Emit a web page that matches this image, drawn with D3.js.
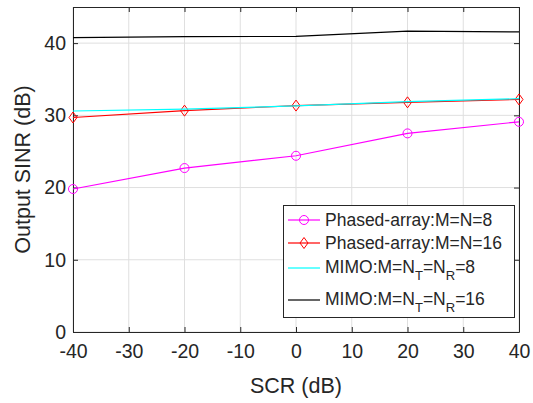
<!DOCTYPE html>
<html><head><meta charset="utf-8">
<script src="https://cdn.jsdelivr.net/npm/d3@7"></script>
<style>body{margin:0;background:#fff}svg{display:block}text{font-family:"Liberation Sans",Arial,sans-serif;fill:#262626}</style>
</head><body><svg id="c" width="533" height="403"></svg>
<script>
const scr = [-40, -20, 0, 20, 40];
const phased8 = [19.8, 22.7, 24.4, 27.5, 29.1];
const phased16 = [29.7, 30.65, 31.35, 31.8, 32.2];
const mimo8 = [30.6, 30.85, 31.3, 31.9, 32.3];
const mimo16 = [40.75, 40.9, 40.92, 41.65, 41.55];
const xTicks = [-40, -30, -20, -10, 0, 10, 20, 30, 40];
const yTicks = [0, 10, 20, 30, 40];

const svg = d3.select("#c");
const L = 73, R = 519, T = 7, B = 332;
const x = d3.scaleLinear().domain([-40, 40]).range([L, R]);
const y = d3.scaleLinear().domain([0, 45]).range([B, T]);
const axisCol = "#262626";
const fmt = d => String(d);

// grid
const g = svg.append("g");
g.selectAll(".gx").data(xTicks).join("line").attr("x1", d => x(d)).attr("x2", d => x(d)).attr("y1", T).attr("y2", B).attr("stroke", "#dfdfdf");
g.selectAll(".gy").data(yTicks).join("line").attr("x1", L).attr("x2", R).attr("y1", d => y(d)).attr("y2", d => y(d)).attr("stroke", "#dfdfdf");

// axes
const xa = svg.append("g").attr("transform", `translate(0,${B})`).call(d3.axisBottom(x).tickValues(xTicks).tickFormat(fmt).tickSize(-5).tickPadding(12).tickSizeOuter(0));
const ya = svg.append("g").attr("transform", `translate(${L},0)`).call(d3.axisLeft(y).tickValues(yTicks).tickFormat(fmt).tickSize(-5).tickPadding(7).tickSizeOuter(0));
const xt = svg.append("g").attr("transform", `translate(0,${T})`).call(d3.axisTop(x).tickValues(xTicks).tickSize(-5).tickFormat("").tickSizeOuter(0));
const yr = svg.append("g").attr("transform", `translate(${R},0)`).call(d3.axisRight(y).tickValues(yTicks).tickSize(-5).tickFormat("").tickSizeOuter(0));
[xa, ya, xt, yr].forEach(a => {
  a.select(".domain").attr("stroke", axisCol);
  a.selectAll(".tick line").attr("stroke", axisCol);
  a.selectAll("text").attr("font-size", 19.5).attr("fill", axisCol).attr("font-family", '"Liberation Sans",Arial,sans-serif');
});

// labels
svg.append("text").attr("x", (L + R) / 2).attr("y", 393).attr("text-anchor", "middle").attr("font-size", 21.5).text("SCR (dB)");
svg.append("text").attr("transform", `translate(30,${(T + B) / 2}) rotate(-90)`).attr("text-anchor", "middle").attr("font-size", 21.5).text("Output SINR (dB)");

const line = d3.line().x((d, i) => x(scr[i])).y(d => y(d));
const series = [
  {v: phased8, c: "#ff00ff", m: "o"},
  {v: phased16, c: "#ff0000", m: "d"},
  {v: mimo8, c: "#00ffff", m: null},
  {v: mimo16, c: "#000000", m: null}
];
const diamond = (cx, cy) => `M${cx},${cy - 5.5}L${cx + 4},${cy}L${cx},${cy + 5.5}L${cx - 4},${cy}Z`;
series.forEach(s => {
  svg.append("path").datum(s.v).attr("d", line).attr("fill", "none").attr("stroke", s.c).attr("stroke-width", 1.2);
  if (s.m === "o") {
    svg.append("g").selectAll("circle").data(s.v).join("circle").attr("cx", (d, i) => x(scr[i])).attr("cy", d => y(d)).attr("r", 4.5).attr("fill", "none").attr("stroke", s.c).attr("stroke-width", 1);
  } else if (s.m === "d") {
    svg.append("g").selectAll("path").data(s.v).join("path").attr("d", (d, i) => diamond(x(scr[i]), y(d))).attr("fill", "none").attr("stroke", s.c).attr("stroke-width", 1);
  }
});

// legend
const lg = svg.append("g");
lg.append("rect").attr("x", 283.5).attr("y", 205.5).attr("width", 231).attr("height", 112).attr("fill", "#fff").attr("stroke", axisCol);
const rows = [
  {c: "#ff00ff", m: "o", ly: 220, ty: 226, parts: [["Phased-array:M=N=8", 0]]},
  {c: "#ff0000", m: "d", ly: 243, ty: 249, parts: [["Phased-array:M=N=16", 0]]},
  {c: "#00ffff", m: null, ly: 268, ty: 273, parts: [["MIMO:M=N", 0], ["T", 1], ["=N", 0], ["R", 1], ["=8", 0]]},
  {c: "#000000", m: null, ly: 300, ty: 305, parts: [["MIMO:M=N", 0], ["T", 1], ["=N", 0], ["R", 1], ["=16", 0]]}
];
rows.forEach(r => {
  lg.append("line").attr("x1", 288).attr("x2", 320).attr("y1", r.ly).attr("y2", r.ly).attr("stroke", r.c).attr("stroke-width", 1.2);
  if (r.m === "o") lg.append("circle").attr("cx", 304).attr("cy", r.ly).attr("r", 4.5).attr("fill", "none").attr("stroke", r.c);
  if (r.m === "d") lg.append("path").attr("d", diamond(304, r.ly)).attr("fill", "none").attr("stroke", r.c);
  const t = lg.append("text").attr("x", 325).attr("y", r.ty).attr("font-size", 17.5);
  let prevSub = 0;
  r.parts.forEach(p => {
    const ts = t.append("tspan").text(p[0]);
    if (p[1]) ts.attr("font-size", 13).attr("dy", 7);
    else if (prevSub) ts.attr("dy", -7);
    prevSub = p[1];
  });
});
</script></body></html>
